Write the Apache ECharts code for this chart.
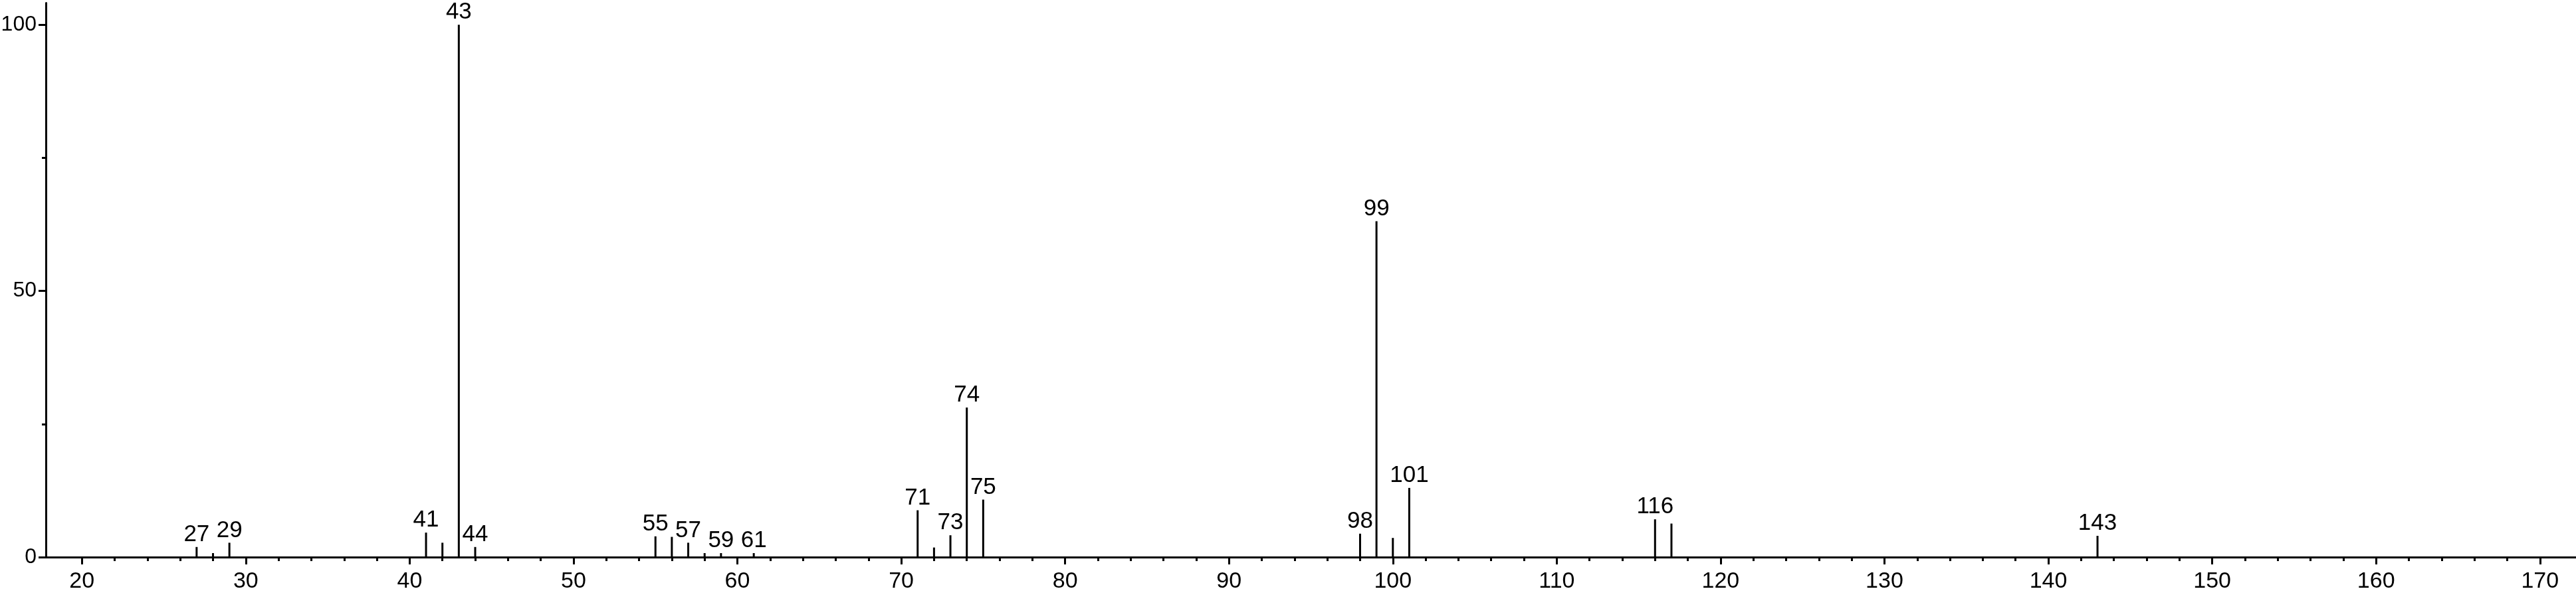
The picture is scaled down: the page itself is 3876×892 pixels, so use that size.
<!DOCTYPE html>
<html>
<head>
<meta charset="utf-8">
<script src="https://cdn.jsdelivr.net/npm/echarts@6/dist/echarts.min.js"></script>
<style>
  html, body { margin: 0; padding: 0; background: #fff; }
  #chart { width: 3876px; height: 892px; }
</style>
</head>
<body>
<div id="chart"></div>
<script>
// m/z of each peak and relative intensity (%)
const mz        = [27, 28, 29, 41, 42, 43, 44, 55, 56, 57, 58, 59, 61, 71, 72, 73, 74, 75, 98, 99, 100, 101, 116, 117, 143];
const intensity = [1.9, 0.75, 2.7, 4.6, 2.7, 100, 1.9, 3.9, 3.8, 2.7, 0.75, 0.75, 0.75, 8.8, 1.8, 4.1, 28.1, 10.8, 4.4, 63.1, 3.6, 13.0, 7.1, 6.3, 4.0];
// peaks that carry an m/z label
const labeledMz = [27, 29, 41, 43, 44, 55, 57, 59, 61, 71, 73, 74, 75, 98, 99, 101, 116, 143];
// axis ticks
const xMajorTicks = [20, 30, 40, 50, 60, 70, 80, 90, 100, 110, 120, 130, 140, 150, 160, 170];
const xMinorTicks = [22, 24, 26, 28, 32, 34, 36, 38, 42, 44, 46, 48, 52, 54, 56, 58, 62, 64, 66, 68,
                     72, 74, 76, 78, 82, 84, 86, 88, 92, 94, 96, 98, 102, 104, 106, 108, 112, 114, 116, 118,
                     122, 124, 126, 128, 132, 134, 136, 138, 142, 144, 146, 148, 152, 154, 156, 158, 162, 164, 166, 168];
const yMajorTicks = [0, 50, 100];
const yMinorTicks = [25, 75];

const X_MIN = 17.8, X_MAX = 172.2, Y_MIN = 0, Y_MAX = 104.1;
const FONT = "'Liberation Sans', Arial, Helvetica, sans-serif";

const chart = echarts.init(document.getElementById('chart'), null, { renderer: 'canvas' });
chart.setOption({
  animation: false,
  backgroundColor: '#ffffff',
  grid: { left: 69, right: 0, top: 4.5, bottom: 54, containLabel: false, outerBoundsMode: 'none' },
  xAxis: [
    {
      type: 'value', min: X_MIN, max: X_MAX, position: 'bottom',
      axisLine: { show: true, onZero: false, lineStyle: { color: '#000', width: 3 } },
      axisTick: { show: true, customValues: xMajorTicks, length: 11, lineStyle: { color: '#000', width: 3 } },
      axisLabel: { show: true, customValues: xMajorTicks, margin: 20, fontSize: 34, color: '#000', fontFamily: FONT },
      splitLine: { show: false }
    },
    {
      type: 'value', min: X_MIN, max: X_MAX, position: 'bottom', offset: 0,
      axisLine: { show: false, onZero: false },
      axisTick: { show: true, customValues: xMinorTicks, length: 6, lineStyle: { color: '#000', width: 3 } },
      axisLabel: { show: false },
      splitLine: { show: false }
    }
  ],
  yAxis: [
    {
      type: 'value', min: Y_MIN, max: Y_MAX, position: 'left',
      axisLine: { show: true, onZero: false, lineStyle: { color: '#000', width: 3 } },
      axisTick: { show: true, customValues: yMajorTicks, length: 11, lineStyle: { color: '#000', width: 3 } },
      axisLabel: { show: true, customValues: yMajorTicks, margin: 14, fontSize: 32, color: '#000', fontFamily: FONT },
      splitLine: { show: false }
    },
    {
      type: 'value', min: Y_MIN, max: Y_MAX, position: 'left', offset: 0,
      axisLine: { show: false, onZero: false },
      axisTick: { show: true, customValues: yMinorTicks, length: 6, lineStyle: { color: '#000', width: 3 } },
      axisLabel: { show: false },
      splitLine: { show: false }
    }
  ],
  series: [
    {
      type: 'bar',
      xAxisIndex: 0, yAxisIndex: 0,
      barWidth: 3,
      itemStyle: { color: '#000' },
      label: {
        position: 'top', distance: 1, color: '#000', fontSize: 35, fontFamily: FONT,
        formatter: p => String(p.value[0])
      },
      data: mz.map((m, i) => ({ value: [m, intensity[i]], label: { show: labeledMz.includes(m) } }))
    }
  ]
});
</script>
</body>
</html>
